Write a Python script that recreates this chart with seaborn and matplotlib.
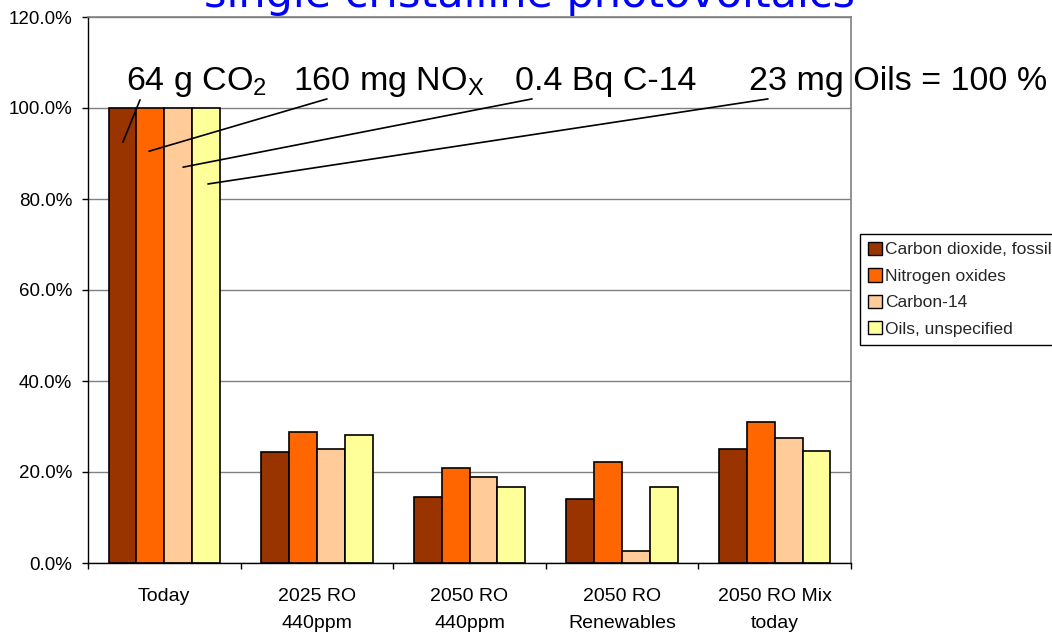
import numpy as np
import pandas as pd
import matplotlib
matplotlib.use("Agg")
import matplotlib.pyplot as plt
import seaborn as sns
from matplotlib.patches import Patch
from matplotlib.ticker import FuncFormatter

# ---------------- data ----------------
scenarios = ["Today", "2025 RO\n440ppm", "2050 RO\n440ppm",
             "2050 RO\nRenewables", "2050 RO Mix\ntoday"]
substances = ["Carbon dioxide, fossil", "Nitrogen oxides",
              "Carbon-14", "Oils, unspecified"]
co2 = [100.0, 24.3, 14.6, 14.0, 25.1]
nox = [100.0, 28.9, 20.9, 22.2, 31.0]
c14 = [100.0, 25.0, 18.8, 2.6, 27.5]
oils = [100.0, 28.1, 16.8, 16.6, 24.6]
colors = ["#993300", "#FF6600", "#FFCC99", "#FFFF99"]
yticks = [0, 20, 40, 60, 80, 100, 120]
title = "single cristalline photovoltaics"
ref_labels = ["64 g CO$_2$", "160 mg NO$_X$", "0.4 Bq C-14",
              "23 mg Oils = 100 %"]

series = [co2, nox, c14, oils]
rows = []
for sub, vals in zip(substances, series):
    for sc, v in zip(scenarios, vals):
        rows.append({"scenario": sc, "substance": sub, "value": v})
df = pd.DataFrame(rows)

# ---------------- style ----------------
sns.set_theme(style="white")
plt.rcParams["font.family"] = ["Liberation Sans", "DejaVu Sans"]
plt.rcParams["mathtext.default"] = "regular"

W, H = 1052, 632
fig = plt.figure(figsize=(W / 100, H / 100), dpi=100)
ax = fig.add_axes([88 / W, 69 / H, 763 / W, 546 / H])

sns.barplot(data=df, x="scenario", y="value", hue="substance",
            order=scenarios, hue_order=substances, palette=colors,
            saturation=1, width=0.73, gap=0, edgecolor="black",
            linewidth=1.2, legend=False, errorbar=None, ax=ax)

ax.set_xlim(-0.5, 4.5)
ax.set_ylim(0, 120)
ax.set_xlabel("")
ax.set_ylabel("")

# grid
ax.set_yticks(yticks)
ax.yaxis.set_major_formatter(FuncFormatter(lambda v, p: f"{v:.1f}%"))
ax.yaxis.grid(True, color="#808080", linewidth=1)
ax.set_axisbelow(True)

# spines
for s in ["left", "bottom"]:
    ax.spines[s].set_color("black")
    ax.spines[s].set_linewidth(1)
for s in ["top", "right"]:
    ax.spines[s].set_color("#808080")
    ax.spines[s].set_linewidth(1.2)
    ax.spines[s].set_visible(True)

ax.tick_params(axis="y", which="major", left=True, direction="out",
               length=4.5, width=1, color="black", labelsize=13.5, pad=7,
               labelcolor="black")
ax.set_xticks(range(len(scenarios)))
ax.set_xticklabels(scenarios, linespacing=1.75)
ax.tick_params(axis="x", which="major", bottom=True, length=0,
               labelsize=14, pad=18, labelcolor="black")
ax.set_xticks(np.arange(-0.5, len(scenarios), 1.0), minor=True)
ax.tick_params(axis="x", which="minor", bottom=True, direction="out",
               length=4.5, width=1, color="black")

# reference annotation texts and pointer lines
text_x = [-0.251, 0.843, 2.298, 3.832]
text_y = 104.0
start_pts = [(-0.159, 101.8), (1.066, 102.0), (2.41, 102.0), (3.956, 102.0)]
end_pts = [(-0.271, 92.5), (-0.100, 90.5), (0.123, 87.0), (0.286, 83.3)]
for lab, tx in zip(ref_labels, text_x):
    ax.text(tx, text_y, lab, ha="left", va="baseline", fontsize=24.5,
            color="black", clip_on=False, zorder=1)
for (sx, sy), (ex, ey) in zip(start_pts, end_pts):
    ax.annotate("", xy=(ex, ey), xytext=(sx, sy),
                arrowprops=dict(arrowstyle="-", color="black", lw=1.2,
                                shrinkA=0, shrinkB=0),
                annotation_clip=False, zorder=4)

# legend
handles = [Patch(facecolor=c, edgecolor="black", linewidth=1) for c in colors]
leg = ax.legend(handles, substances, loc="upper left",
                bbox_to_anchor=(1.0118, 0.6026), borderaxespad=0,
                frameon=True, fancybox=False, edgecolor="black",
                framealpha=1, fontsize=12.5, handlelength=0.8,
                handleheight=0.8, handletextpad=0.2, labelspacing=0.62,
                borderpad=0.45)
leg.get_frame().set_linewidth(1)

# title (cut at the top as in the reference)
fig.text(530 / W, 1 - 7 / H, title, ha="center", va="baseline",
         fontsize=31, color="#0000FF", family=["DejaVu Sans"])

fig.savefig("out.png", dpi=100)
